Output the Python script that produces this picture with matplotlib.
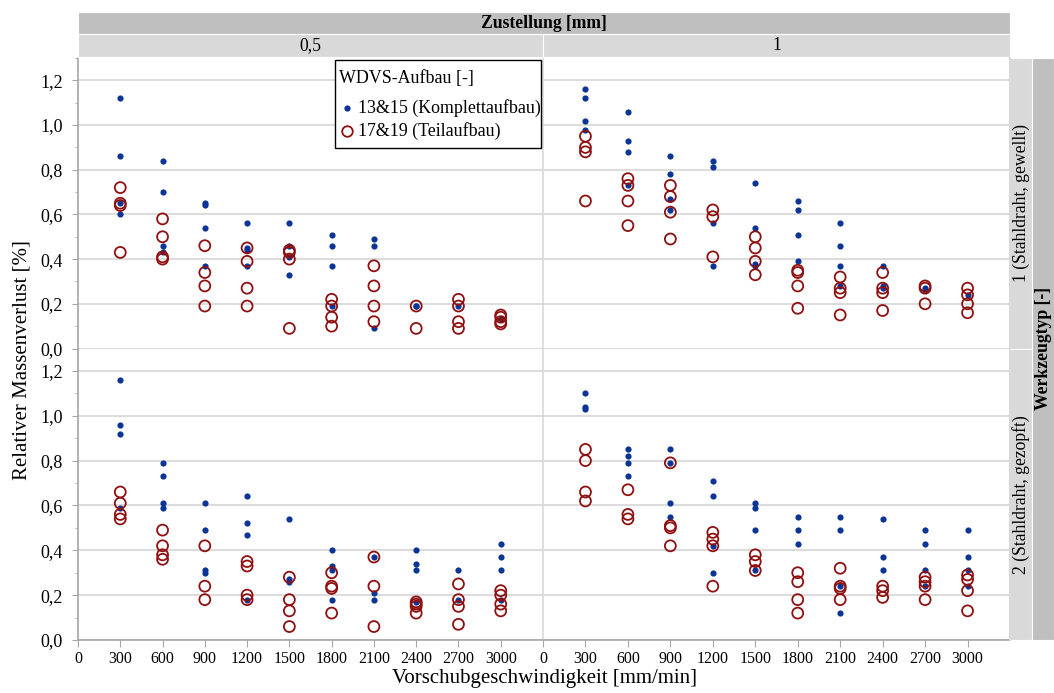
import matplotlib
matplotlib.use("Agg")
import matplotlib.pyplot as plt
from matplotlib.lines import Line2D
from matplotlib.patches import Rectangle
from matplotlib.ticker import MultipleLocator

plt.rcParams['font.family'] = ['Liberation Serif', 'DejaVu Serif']

# ---------------- data ----------------
vorschub = [300, 600, 900, 1200, 1500, 1800, 2100, 2400, 2700, 3000]
zustellung_labels = ["0,5", "1"]
werkzeug_labels = ["1 (Stahldraht, gewellt)", "2 (Stahldraht, gezopft)"]
serie_labels = ["13&15 (Komplettaufbau)", "17&19 (Teilaufbau)"]
y_ticks = [0.0, 0.2, 0.4, 0.6, 0.8, 1.0, 1.2]
y_ticklabels = ["0,0", "0,2", "0,4", "0,6", "0,8", "1,0", "1,2"]
x_ticks = [0, 300, 600, 900, 1200, 1500, 1800, 2100, 2400, 2700, 3000]

# Werkzeug 1, Zustellung 0,5
w1_z05_komplett = [[1.12, 0.86, 0.65, 0.60], [0.84, 0.70, 0.46, 0.43], [0.65, 0.64, 0.54, 0.37],
                   [0.56, 0.45, 0.37, 0.44], [0.56, 0.46, 0.41, 0.33], [0.51, 0.46, 0.37, 0.19],
                   [0.49, 0.46, 0.09], [0.19, 0.19], [0.19], [0.13]]
w1_z05_teil = [[0.72, 0.65, 0.64, 0.43], [0.58, 0.50, 0.41, 0.40], [0.46, 0.34, 0.28, 0.19],
               [0.45, 0.39, 0.27, 0.19], [0.44, 0.43, 0.40, 0.09], [0.22, 0.19, 0.14, 0.10],
               [0.37, 0.28, 0.19, 0.12], [0.19, 0.09], [0.22, 0.19, 0.12, 0.09], [0.15, 0.14, 0.12, 0.11]]
# Werkzeug 1, Zustellung 1
w1_z1_komplett = [[1.16, 1.12, 1.02, 0.98], [1.06, 0.93, 0.88, 0.73], [0.86, 0.78, 0.67, 0.62],
                  [0.84, 0.81, 0.56, 0.37], [0.74, 0.54, 0.38, 0.37], [0.66, 0.62, 0.51, 0.39],
                  [0.56, 0.46, 0.37, 0.28], [0.37, 0.28, 0.27], [0.27, 0.26], [0.24]]
w1_z1_teil = [[0.95, 0.90, 0.88, 0.66], [0.76, 0.73, 0.66, 0.55], [0.73, 0.68, 0.61, 0.49],
              [0.62, 0.59, 0.41], [0.50, 0.45, 0.39, 0.33], [0.35, 0.34, 0.28, 0.18],
              [0.32, 0.27, 0.25, 0.15], [0.34, 0.27, 0.25, 0.17], [0.28, 0.27, 0.20], [0.27, 0.24, 0.20, 0.16]]
# Werkzeug 2, Zustellung 0,5
w2_z05_komplett = [[1.16, 0.96, 0.92, 0.59], [0.79, 0.73, 0.61, 0.59], [0.61, 0.49, 0.31, 0.30],
                   [0.64, 0.52, 0.47, 0.18], [0.54, 0.27, 0.26], [0.40, 0.33, 0.31, 0.18],
                   [0.37, 0.21, 0.18], [0.40, 0.34, 0.31, 0.17], [0.31, 0.18], [0.43, 0.37, 0.31, 0.18]]
w2_z05_teil = [[0.66, 0.61, 0.56, 0.54], [0.49, 0.42, 0.38, 0.36], [0.42, 0.24, 0.18],
               [0.35, 0.33, 0.20, 0.18], [0.28, 0.18, 0.13, 0.06], [0.30, 0.24, 0.23, 0.12],
               [0.37, 0.24, 0.06], [0.17, 0.16, 0.15, 0.12], [0.25, 0.18, 0.15, 0.07], [0.22, 0.20, 0.16, 0.13]]
# Werkzeug 2, Zustellung 1
w2_z1_komplett = [[1.10, 1.04, 1.03], [0.85, 0.82, 0.79, 0.73], [0.85, 0.79, 0.61, 0.55],
                  [0.71, 0.64, 0.42, 0.30], [0.61, 0.59, 0.49, 0.31], [0.55, 0.49, 0.43],
                  [0.55, 0.49, 0.24, 0.12], [0.54, 0.37, 0.31], [0.49, 0.43, 0.31, 0.24], [0.49, 0.37, 0.31, 0.24]]
w2_z1_teil = [[0.85, 0.80, 0.66, 0.62], [0.67, 0.56, 0.54], [0.79, 0.51, 0.50, 0.42],
              [0.48, 0.45, 0.42, 0.24], [0.38, 0.35, 0.31], [0.30, 0.26, 0.18, 0.12],
              [0.32, 0.24, 0.23, 0.18], [0.24, 0.22, 0.19], [0.28, 0.26, 0.24, 0.18], [0.29, 0.27, 0.22, 0.13]]

panels = {
    (0, 0): (w1_z05_komplett, w1_z05_teil),
    (0, 1): (w1_z1_komplett, w1_z1_teil),
    (1, 0): (w2_z05_komplett, w2_z05_teil),
    (1, 1): (w2_z1_komplett, w2_z1_teil),
}

# ---------------- styling ----------------
W, H = 1054, 693
BLUE = "#0a3597"
RED = "#8f1010"
GRID = "#d9d9d9"
SPINE = "#a6a6a6"
STRIP1 = "#bfbfbf"
STRIP2 = "#d9d9d9"
FS_X = 11.5
FS_Y = 13
FS_STRIP = 12.7
FS_LEG = 12.9
FS_TITLE = 15

fig = plt.figure(figsize=(W / 100, H / 100), dpi=100)


def fx(px):
    return px / W


def fy(py):
    return 1 - py / H


col_edges = [78, 543, 1010]
row_edges = [58, 348.5, 640]

for r in range(2):
    for c in range(2):
        x0, x1 = col_edges[c], col_edges[c + 1]
        y0, y1 = row_edges[r], row_edges[r + 1]
        ax = fig.add_axes([fx(x0), fy(y1), fx(x1 - x0), (y1 - y0) / H])
        komplett, teil = panels[(r, c)]
        for xv, vals in zip(vorschub, komplett):
            ax.scatter([xv] * len(vals), vals, s=20, color=BLUE, zorder=3, linewidths=0)
        for xv, vals in zip(vorschub, teil):
            ax.scatter([xv] * len(vals), vals, s=62, facecolors="none", edgecolors=RED,
                       linewidths=1.3, zorder=4)
        ax.set_xlim(0, 3300)
        ax.set_ylim(0, 1.3)
        ax.set_yticks(y_ticks)
        ax.grid(axis="y", which="major", color=GRID, linewidth=1.3)
        ax.set_axisbelow(True)
        for s in ["top", "right"]:
            ax.spines[s].set_visible(False)
        ax.spines["left"].set_color(SPINE if c == 0 else GRID)
        ax.spines["left"].set_linewidth(1.2)
        ax.spines["bottom"].set_color(SPINE if r == 1 else GRID)
        ax.spines["bottom"].set_linewidth(1.2)
        ax.set_xticks(x_ticks)
        if r == 1:
            ax.set_xticklabels([str(t) for t in x_ticks], fontsize=FS_X)
            ax.tick_params(axis="x", length=5, color=SPINE, pad=3)
        else:
            ax.tick_params(axis="x", length=0, labelbottom=False)
        if c == 0:
            ax.set_yticklabels(y_ticklabels, fontsize=FS_Y)
            ax.yaxis.set_minor_locator(MultipleLocator(0.1))
            ax.tick_params(axis="y", which="major", length=4, color=SPINE, pad=7)
            ax.tick_params(axis="y", which="minor", length=2.5, color=SPINE)
        else:
            ax.tick_params(axis="y", length=0, labelleft=False)

# right border line of right panels
fig.add_artist(Line2D([fx(1010), fx(1010)], [fy(58), fy(640)], color=GRID, linewidth=1.5))


# ---------------- strips ----------------
def strip(x0, y0, x1, y1, color, text, bold=False, rot=0):
    a = fig.add_axes([fx(x0), fy(y1), fx(x1 - x0), (y1 - y0) / H])
    a.set_facecolor(color)
    for s in a.spines.values():
        s.set_color("white")
        s.set_linewidth(0.8)
    a.set_xticks([])
    a.set_yticks([])
    a.text(0.5, 0.5, text, ha="center", va="center", rotation=rot, fontsize=FS_STRIP,
           fontweight="bold" if bold else "normal", transform=a.transAxes)


strip(78, 12, 1010, 34, STRIP1, "Zustellung [mm]", bold=True)
strip(78, 34, 543, 57, STRIP2, zustellung_labels[0])
strip(543, 34, 1010, 57, STRIP2, zustellung_labels[1])
strip(1010, 58, 1032, 348.5, STRIP2, werkzeug_labels[0], rot=90)
strip(1010, 348.5, 1032, 640, STRIP2, werkzeug_labels[1], rot=90)
strip(1032, 58, 1054, 640, STRIP1, "Werkzeugtyp [-]", bold=True, rot=90)

# ---------------- axis titles ----------------
fig.text(fx(22), fy(360), "Relativer Massenverlust [%]", rotation=90, ha="center", va="center",
         fontsize=FS_TITLE)
fig.text(fx(544), fy(678), "Vorschubgeschwindigkeit [mm/min]", ha="center", va="center",
         fontsize=FS_TITLE)

# ---------------- legend (drawn manually for exact box) ----------------
fig.add_artist(Rectangle((fx(334.5), fy(148)), fx(541 - 334.5), (148 - 60) / H,
                         transform=fig.transFigure, facecolor="white", edgecolor="black",
                         linewidth=1.0, zorder=10))
fig.text(fx(339), fy(79), "WDVS-Aufbau [-]", ha="left", va="center", fontsize=FS_LEG, zorder=11)
fig.add_artist(Line2D([fx(346.5)], [fy(108)], linestyle="none", marker="o", markersize=4.5,
                      markerfacecolor=BLUE, markeredgewidth=0, transform=fig.transFigure, zorder=11))
fig.add_artist(Line2D([fx(346.5)], [fy(131)], linestyle="none", marker="o", markersize=7.6,
                      markerfacecolor="none", markeredgecolor=RED, markeredgewidth=1.3,
                      transform=fig.transFigure, zorder=11))
fig.text(fx(358), fy(108), serie_labels[0], ha="left", va="center", fontsize=FS_LEG, zorder=11)
fig.text(fx(358), fy(131), serie_labels[1], ha="left", va="center", fontsize=FS_LEG, zorder=11)

fig.savefig("out.png", dpi=100)
